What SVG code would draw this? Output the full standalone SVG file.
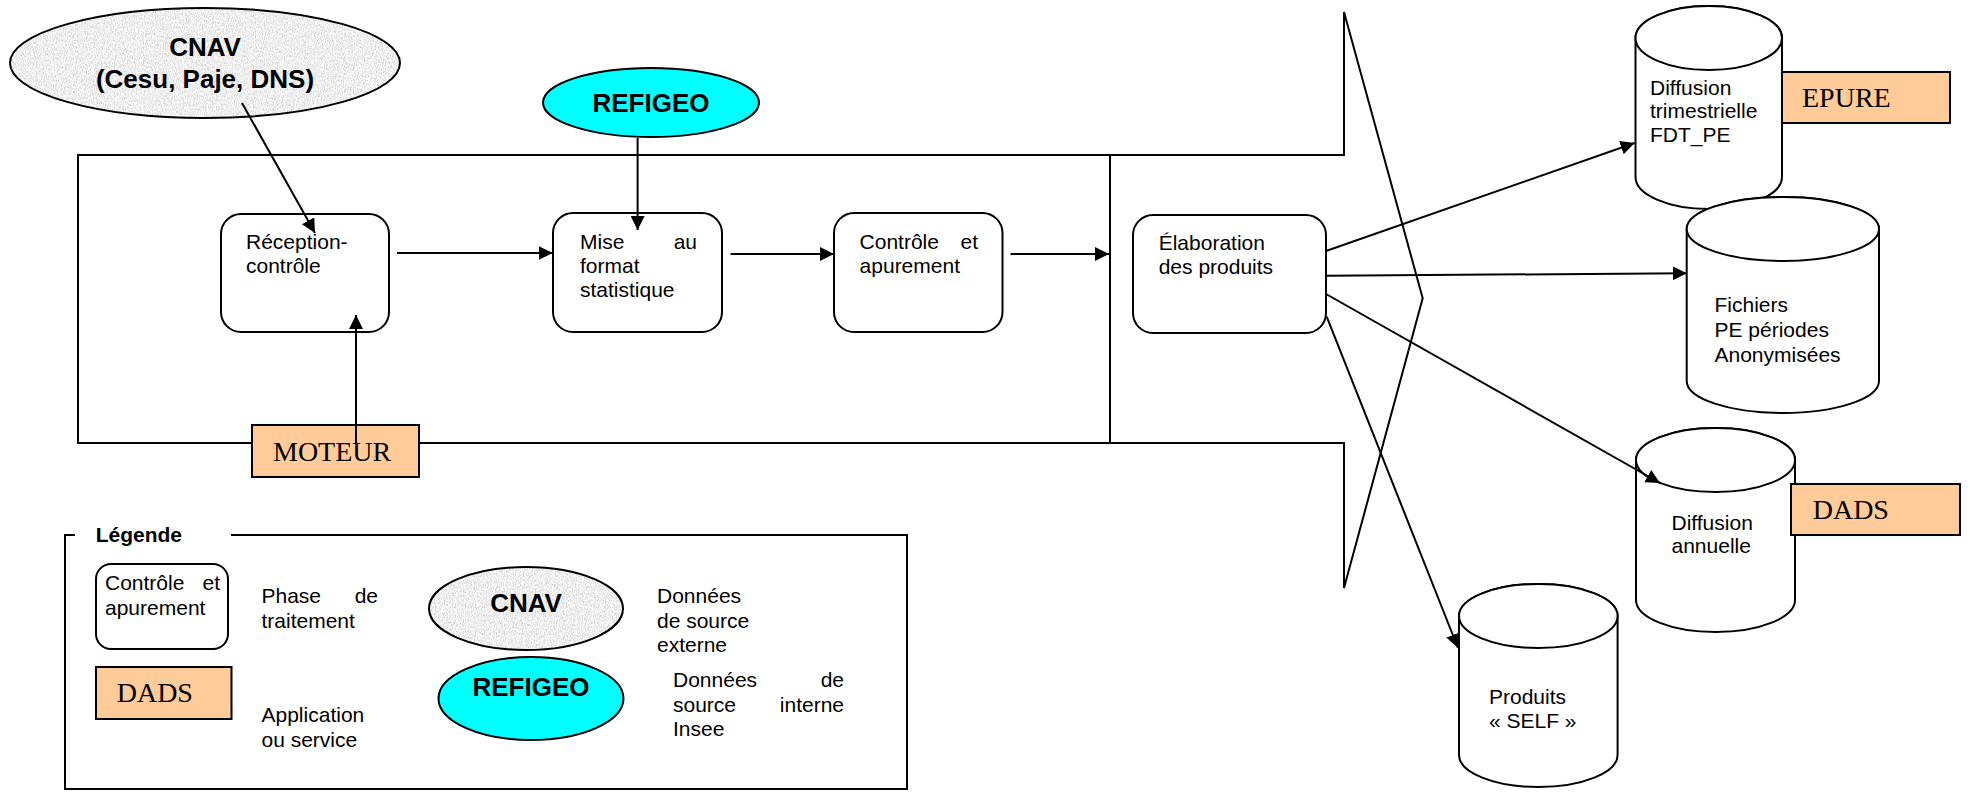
<svg xmlns="http://www.w3.org/2000/svg" width="1970" height="794" viewBox="0 0 1970 794">
<defs>
  <marker id="arr" markerUnits="userSpaceOnUse" markerWidth="15" markerHeight="14" refX="14" refY="7" orient="auto">
    <path d="M0,0 L14,7 L0,14 z" fill="#000"/>
  </marker>
  <filter id="granite" x="0%" y="0%" width="100%" height="100%" color-interpolation-filters="sRGB">
    <feTurbulence type="fractalNoise" baseFrequency="0.9 0.45" numOctaves="3" seed="3" result="n"/>
    <feColorMatrix in="n" type="matrix" values="0.33 0.33 0.33 0 0  0.33 0.33 0.33 0 0  0.33 0.33 0.33 0 0  0 0 0 0 1" result="g"/>
    <feComponentTransfer in="g" result="g2">
      <feFuncR type="linear" slope="0.6" intercept="0.64"/>
      <feFuncG type="linear" slope="0.6" intercept="0.64"/>
      <feFuncB type="linear" slope="0.6" intercept="0.64"/>
    </feComponentTransfer>
    <feComposite in="g2" in2="SourceAlpha" operator="in"/>
  </filter>
</defs>
<style>
  .ln { fill: none; stroke: #000; stroke-width: 2; }
  .box { fill: #fff; stroke: #000; stroke-width: 2; }
  .app { fill: #FFCC99; stroke: #000; stroke-width: 2; }
  .cyl { fill: #fff; stroke: #000; stroke-width: 2; }
  .edge { fill: none; stroke: #000; stroke-width: 2; marker-end: url(#arr); }
  .t { font-family: "Liberation Sans", Arial, sans-serif; font-size: 21px; fill: #000; }
  .b { font-family: "Liberation Sans", Arial, sans-serif; font-size: 26px; font-weight: bold; fill: #000; text-anchor: middle; }
  .s { font-family: "Liberation Serif", "Times New Roman", serif; font-size: 28px; fill: #000; }
  .lt { font-family: "Liberation Sans", Arial, sans-serif; font-size: 21px; font-weight: bold; fill: #000; }
  .gran { fill: #000; filter: url(#granite); }
  .ell { fill: none; stroke: #000; stroke-width: 2; }
  .cyan { fill: #00FFFF; stroke: #000; stroke-width: 2; }
</style>
<rect width="1970" height="794" fill="#fff"/>

<g id="frame">
  <path class="ln" d="M78,155 L1344,155 L1344,12 L1422.7,298.3 L1344,588 L1344,443 L78,443 Z"/>
  <line class="ln" x1="1110" y1="155" x2="1110" y2="443"/>
</g>

<g id="cnav">
  <ellipse class="gran" cx="205" cy="63" rx="195" ry="55"/>
  <ellipse class="ell" cx="205" cy="63" rx="195" ry="55"/>
  <text class="b" x="205" y="56">CNAV</text>
  <text class="b" x="205" y="88">(Cesu, Paje, DNS)</text>
</g>

<g id="refigeo">
  <ellipse class="cyan" cx="651" cy="102.5" rx="108" ry="34.5"/>
  <text class="b" x="651" y="112">REFIGEO</text>
</g>

<g id="reception">
  <rect class="box" x="221" y="214" width="168" height="118" rx="20"/>
  <text class="t" x="246" y="249">Réception-</text>
  <text class="t" x="246" y="273">contrôle</text>
</g>

<g id="mise">
  <rect class="box" x="553" y="213" width="169" height="119" rx="20"/>
  <text class="t" x="580" y="249">Mise</text>
  <text class="t" x="697" y="249" text-anchor="end">au</text>
  <text class="t" x="580" y="273">format</text>
  <text class="t" x="580" y="297">statistique</text>
</g>

<g id="controle">
  <rect class="box" x="834" y="213" width="168.5" height="119" rx="20"/>
  <text class="t" x="859.6" y="249">Contrôle</text>
  <text class="t" x="978" y="249" text-anchor="end">et</text>
  <text class="t" x="859.6" y="273">apurement</text>
</g>

<g id="elaboration">
  <rect class="box" x="1133" y="215" width="193" height="118" rx="20"/>
  <text class="t" x="1158.7" y="250">Élaboration</text>
  <text class="t" x="1158.7" y="274">des produits</text>
</g>

<g id="moteur">
  <rect class="app" x="252" y="425" width="167" height="52"/>
  <text class="s" x="273" y="461">MOTEUR</text>
</g>

<g id="cyl-trimestrielle">
  <path class="cyl" d="M1635.5,38 L1635.5,177 A73.25,32 0 0 0 1782,177 L1782,38 A73.25,32 0 0 0 1635.5,38 Z"/>
  <ellipse class="cyl" cx="1708.75" cy="38" rx="73.25" ry="32"/>
  <text class="t" x="1650" y="95">Diffusion</text>
  <text class="t" x="1650" y="118">trimestrielle</text>
  <text class="t" x="1650" y="142">FDT_PE</text>
</g>

<g id="epure">
  <rect class="app" x="1782" y="72" width="168" height="51"/>
  <text class="s" x="1802" y="107">EPURE</text>
</g>

<g id="cyl-fichiers">
  <path class="cyl" d="M1686.7,229 L1686.7,381 A96.15,32 0 0 0 1879,381 L1879,229 A96.15,32 0 0 0 1686.7,229 Z"/>
  <ellipse class="cyl" cx="1782.85" cy="229" rx="96.15" ry="32"/>
  <text class="t" x="1714.5" y="312">Fichiers</text>
  <text class="t" x="1714.5" y="337">PE périodes</text>
  <text class="t" x="1714.5" y="362">Anonymisées</text>
</g>

<g id="cyl-annuelle">
  <path class="cyl" d="M1636,460 L1636,600 A79.5,32 0 0 0 1795,600 L1795,460 A79.5,32 0 0 0 1636,460 Z"/>
  <ellipse class="cyl" cx="1715.5" cy="460" rx="79.5" ry="32"/>
  <text class="t" x="1671.5" y="530">Diffusion</text>
  <text class="t" x="1671.5" y="553">annuelle</text>
</g>

<g id="dads">
  <rect class="app" x="1791" y="484" width="169" height="51"/>
  <text class="s" x="1812.7" y="519">DADS</text>
</g>

<g id="cyl-self">
  <path class="cyl" d="M1459,616 L1459,755 A79.3,32 0 0 0 1617.6,755 L1617.6,616 A79.3,32 0 0 0 1459,616 Z"/>
  <ellipse class="cyl" cx="1538.3" cy="616" rx="79.3" ry="32"/>
  <text class="t" x="1489" y="704">Produits</text>
  <text class="t" x="1489" y="728">« SELF »</text>
</g>

<g id="connectors">
  <line class="edge" x1="242" y1="103" x2="315" y2="233"/>
  <line class="edge" x1="637.6" y1="138" x2="637.6" y2="230"/>
  <line class="edge" x1="397" y1="253" x2="552.7" y2="253"/>
  <line class="edge" x1="730.6" y1="254" x2="834" y2="254"/>
  <line class="edge" x1="1010.5" y1="254" x2="1109" y2="254"/>
  <line class="edge" x1="356" y1="443" x2="356" y2="315"/>
  <line class="edge" x1="1326" y1="251" x2="1634.6" y2="143"/>
  <line class="edge" x1="1326" y1="275.7" x2="1686.7" y2="273.3"/>
  <line class="edge" x1="1326" y1="294" x2="1660" y2="483"/>
  <line class="edge" x1="1326.7" y1="316.7" x2="1458" y2="648"/>
</g>

<g id="legend">
  <path class="ln" d="M75,535 L65,535 L65,789 L907,789 L907,535 L231,535"/>
  <text class="lt" x="95.7" y="542">Légende</text>
  <g id="legend-phase">
    <rect class="box" x="96" y="564" width="132" height="85" rx="15"/>
    <text class="t" x="105" y="590">Contrôle</text>
    <text class="t" x="220" y="590" text-anchor="end">et</text>
    <text class="t" x="105" y="615">apurement</text>
    <text class="t" x="261.5" y="603">Phase</text>
    <text class="t" x="378" y="603" text-anchor="end">de</text>
    <text class="t" x="261.5" y="628">traitement</text>
  </g>
  <g id="legend-app">
    <rect class="app" x="96" y="667" width="135.5" height="52"/>
    <text class="s" x="116.7" y="702">DADS</text>
    <text class="t" x="261.5" y="722">Application</text>
    <text class="t" x="261.5" y="747">ou service</text>
  </g>
  <g id="legend-ext">
    <ellipse class="gran" cx="526" cy="608.5" rx="97" ry="41.5"/>
    <ellipse class="ell" cx="526" cy="608.5" rx="97" ry="41.5"/>
    <text class="b" x="526" y="612">CNAV</text>
    <text class="t" x="657" y="603">Données</text>
    <text class="t" x="657" y="628">de source</text>
    <text class="t" x="657" y="652">externe</text>
  </g>
  <g id="legend-int">
    <ellipse class="cyan" cx="531" cy="698.5" rx="92.5" ry="41.5"/>
    <text class="b" x="531" y="696">REFIGEO</text>
    <text class="t" x="673" y="687">Données</text>
    <text class="t" x="844" y="687" text-anchor="end">de</text>
    <text class="t" x="673" y="712">source</text>
    <text class="t" x="844" y="712" text-anchor="end">interne</text>
    <text class="t" x="673" y="736">Insee</text>
  </g>
</g>
</svg>
